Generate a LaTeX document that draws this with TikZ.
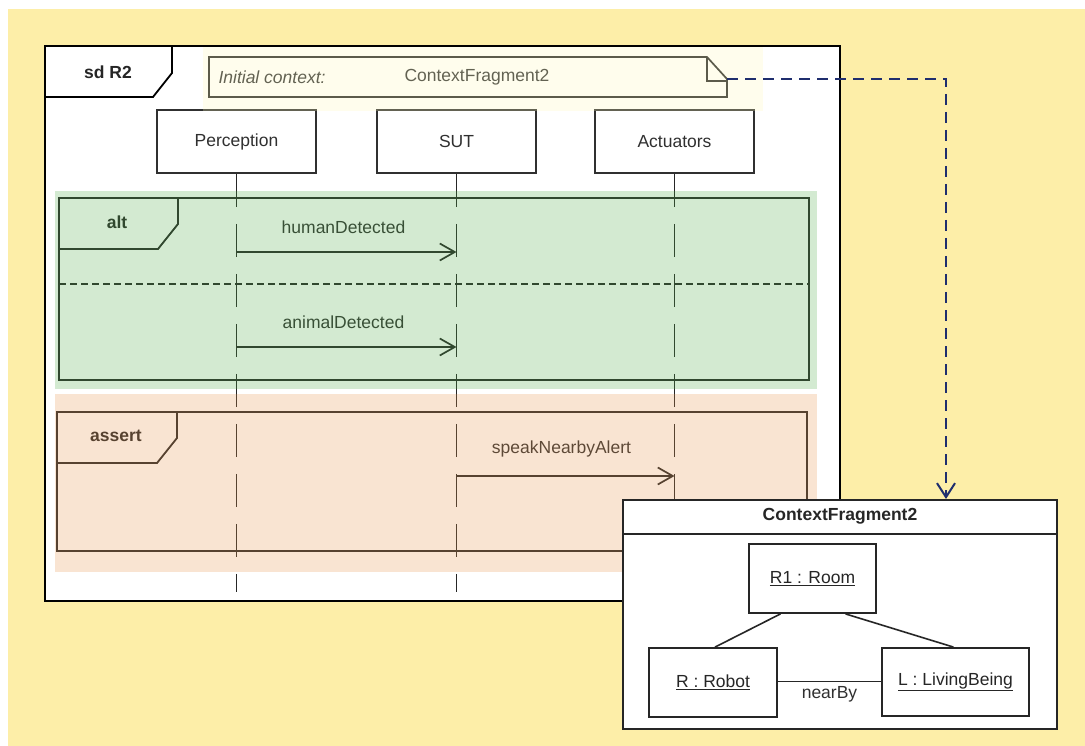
\documentclass[tikz,border=0pt]{standalone}
\usepackage{fontspec}
\setmainfont{Liberation Sans}
\usetikzlibrary{arrows.meta}
\definecolor{paper}{HTML}{FDEEA8}
\definecolor{inkgrey}{HTML}{303030}
\definecolor{altwash}{RGB}{83,175,75}
\definecolor{assertwash}{RGB}{235,151,79}
\definecolor{notewash}{RGB}{255,251,187}
\definecolor{depblue}{HTML}{1F2E6E}
\tikzset{
  txt/.style={font=\fontsize{17.5}{20}\selectfont, text=inkgrey},
  boldtxt/.style={font=\fontsize{17.5}{20}\selectfont\bfseries, text=black!85},
  head/.style={draw=inkgrey, line width=1.8pt, fill=white, minimum width=159pt,
    minimum height=63pt, inner sep=0pt, txt},
  lifeline/.style={line width=1.8pt, draw=black!85, dash pattern=on 33pt off 17pt},
  msg/.style={line width=1.7pt, draw=black!85,
    -{Straight Barb[length=15pt,width=17pt]}},
  frag/.style={line width=1.8pt, draw=black!85},
  wash/.style={fill opacity=0.25, draw=none},
  obj/.style={draw=black!85, line width=1.8pt, fill=white, inner sep=0pt,
    font=\fontsize{17.5}{20}\selectfont, text=black!85},
  link/.style={line width=1.6pt, draw=black!85},
  dep/.style={line width=2pt, draw=depblue, dash pattern=on 11pt off 7pt,
    -{Straight Barb[length=14pt,width=18pt]}}
}
\begin{document}
\begin{tikzpicture}[x=1pt, y=-1pt]
  \useasboundingbox (0,0) rectangle (1085,746);
  % page background
  \fill[white] (0,0) rectangle (1085,746);
  \fill[paper] (8,9) rectangle (1085,746);

  % sequence diagram frame
  \draw[fill=white, line width=2.2pt] (45,46) rectangle (840,601);
  \draw[line width=1.8pt] (45,97) -- (153,97) -- (172,73) -- (172,46);
  \node[boldtxt] (sdname) at (108,72) {sd R2};

  % initial context note
  \draw[line width=1.7pt, draw=black!85, fill=white]
    (209,57) -- (707,57) -- (727,79) -- (727,97) -- (209,97) -- cycle;
  \draw[line width=1.7pt, draw=black!85] (707,57) -- (707,81) -- (727,81);
  \node[txt, anchor=west, font=\fontsize{17.5}{20}\selectfont\itshape] (ctxkey) at (215,77) {Initial context:};
  \node[txt] (ctxval) at (477,77) {ContextFragment2};
  \coordinate (notecorner) at (727,79);

  % lifeline heads
  \node[head] (perc) at (236.5,141.5) {Perception};
  \node[head] (sut)  at (456.5,141.5) {SUT};
  \node[head] (act)  at (674.5,141.5) {Actuators};
  \coordinate (lifeend) at (0,592);
  \draw[lifeline] (perc.south) -- (perc.south |- lifeend);
  \draw[lifeline] (sut.south)  -- (sut.south |- lifeend);
  \draw[lifeline] (act.south)  -- (act.south |- lifeend);

  % alt fragment
  \draw[frag] (59,198) rectangle (809,380);
  \draw[frag] (178,198) -- (178,224) -- (158,249) -- (59,249);
  \node[boldtxt] (altname) at (117,222) {alt};
  \draw[frag, line width=1.5pt, dash pattern=on 7pt off 4pt] (59,284) -- (809,284);

  % assert fragment
  \draw[frag] (57,412) rectangle (807,551);
  \draw[frag] (177,412) -- (177,438) -- (157,463) -- (57,463);
  \node[boldtxt] (assertname) at (116,436) {assert};

  % messages
  \coordinate (m1) at (0,252);
  \coordinate (m2) at (0,347);
  \coordinate (m3) at (0,476);
  \draw[msg] (perc.south |- m1) -- (sut.south |- m1)
    node[txt, midway, yshift=25pt, xshift=-3pt] (m1lbl) {humanDetected};
  \draw[msg] (perc.south |- m2) -- (sut.south |- m2)
    node[txt, midway, yshift=25pt, xshift=-3pt] (m2lbl) {animalDetected};
  \draw[msg] (sut.south |- m3) -- (act.south |- m3)
    node[txt, midway, yshift=27pt, xshift=-4pt] (m3lbl) {speakNearbyAlert};

  % translucent highlights
  \fill[wash, notewash]   (203,47) rectangle (763,111);
  \fill[wash, altwash]    (55,191) rectangle (817,389);
  \fill[wash, assertwash] (55,394) rectangle (817,572);

  % context fragment object diagram
  \node[draw=black!85, line width=2pt, fill=white, minimum width=434pt,
    minimum height=229pt, inner sep=0pt] (ctx) at (840,614.5) {};
  \draw[line width=1.8pt, draw=black!85]
    ([yshift=-35pt]ctx.north west) -- ([yshift=-35pt]ctx.north east);
  \node[boldtxt] (ctxtitle) at ([yshift=-17pt]ctx.north) {ContextFragment2};

  \node[obj, minimum width=127pt, minimum height=69pt] (room) at (812.5,578.5) {\underline{R1 : Room}};
  \node[obj, minimum width=128pt, minimum height=69pt] (robot) at (713,682.5) {\underline{R : Robot}};
  \node[obj, minimum width=147pt, minimum height=68pt] (living) at (955.5,682) {\underline{L : LivingBeing}};

  \draw[link] ([xshift=-32pt]room.south) -- ([xshift=2pt]robot.north);
  \draw[link] ([xshift=33pt]room.south) -- ([xshift=-2pt]living.north);
  \draw[link] ([yshift=1pt]robot.east) -- ([yshift=1pt]robot.east -| living.west)
    node[txt, midway, yshift=-13pt] (nearby) {nearBy};

  % dependency from the note to the fragment
  \draw[dep] (notecorner) -| ([xshift=106pt]ctx.north);
\end{tikzpicture}
\end{document}
